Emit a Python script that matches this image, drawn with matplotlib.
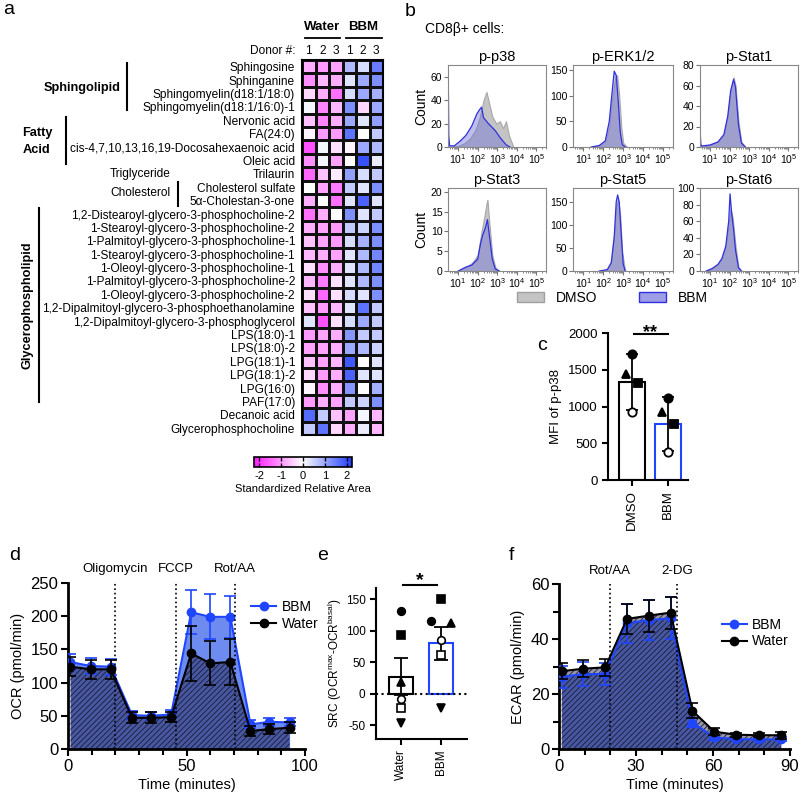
import numpy as np
import matplotlib
matplotlib.use("Agg")
from matplotlib import pyplot as plt
from matplotlib.colors import LinearSegmentedColormap
from matplotlib.patches import Patch
from matplotlib.lines import Line2D
from matplotlib.ticker import MultipleLocator, LogLocator, NullFormatter

plt.rcParams['font.family'] = ['Liberation Sans', 'DejaVu Sans']
plt.rcParams['mathtext.fontset'] = 'custom'
plt.rcParams['mathtext.rm'] = 'Liberation Sans'
plt.rcParams['hatch.linewidth'] = 0.6
plt.rcParams['axes.unicode_minus'] = False

# ---------------- data ----------------
lipids = ['Sphingosine', 'Sphinganine', 'Sphingomyelin(d18:1/18:0)', 'Sphingomyelin(d18:1/16:0)-1',
          'Nervonic acid', 'FA(24:0)', 'cis-4,7,10,13,16,19-Docosahexaenoic acid', 'Oleic acid',
          'Trilaurin', 'Cholesterol sulfate', '5α-Cholestan-3-one',
          '1,2-Distearoyl-glycero-3-phosphocholine-2', '1-Stearoyl-glycero-3-phosphocholine-2',
          '1-Palmitoyl-glycero-3-phosphocholine-1', '1-Stearoyl-glycero-3-phosphocholine-1',
          '1-Oleoyl-glycero-3-phosphocholine-1', '1-Palmitoyl-glycero-3-phosphocholine-2',
          '1-Oleoyl-glycero-3-phosphocholine-2', '1,2-Dipalmitoyl-glycero-3-phosphoethanolamine',
          '1,2-Dipalmitoyl-glycero-3-phosphoglycerol', 'LPS(18:0)-1', 'LPS(18:0)-2',
          'LPG(18:1)-1', 'LPG(18:1)-2', 'LPG(16:0)', 'PAF(17:0)', 'Decanoic acid',
          'Glycerophosphocholine']
donors = ['1', '2', '3', '1', '2', '3']
heat_vals = [
    [-0.8, -1.0, -0.9, 0.8, 0.4, 1.5],
    [-1.1, -0.7, -0.8, 0.3, 1.0, 1.3],
    [-0.4, -0.8, -1.4, 0.4, 1.0, 0.9],
    [0.1, -1.2, -0.7, 1.3, -0.4, 1.0],
    [-0.6, -1.2, -0.8, 1.0, 0.3, 1.1],
    [-0.1, -1.0, -1.0, 1.6, 0.0, 0.6],
    [-1.7, 0.1, -0.3, -0.1, 1.0, 0.8],
    [-1.1, 0.1, -0.9, 0.0, 2.0, 0.2],
    [-1.5, -0.6, -0.2, 1.1, 0.4, 0.6],
    [0.0, -0.9, -1.3, 0.6, 0.3, 1.3],
    [-0.8, 0.0, -1.4, 0.3, 1.8, 0.3],
    [-1.4, -0.8, 0.0, 1.3, 0.3, 0.6],
    [-0.8, -0.9, -1.0, 0.6, 0.5, 1.3],
    [-0.6, -0.9, -1.0, 0.4, 0.9, 1.3],
    [-0.7, -0.8, -0.9, 0.3, 0.8, 1.4],
    [-0.3, -1.1, -0.8, 0.3, 0.8, 1.4],
    [-0.7, -1.3, -0.3, 0.3, 0.8, 1.3],
    [-0.3, -1.5, -0.3, 0.4, 0.3, 1.3],
    [-0.6, -1.0, -0.7, 0.3, 1.6, 0.6],
    [0.3, -1.7, -0.3, 0.4, 1.0, 0.6],
    [-1.0, -0.9, -0.8, 1.2, 0.6, 0.6],
    [-0.9, -0.9, -0.8, 1.0, 0.8, 0.5],
    [-0.6, -0.9, -0.7, 1.9, 0.0, 0.3],
    [-0.4, -1.0, -0.8, 1.8, 0.3, 0.3],
    [-0.1, -1.1, -0.8, 1.2, 0.0, 0.9],
    [-1.0, -0.8, -0.9, 0.6, 0.5, 1.3],
    [1.7, 0.6, -0.6, -0.9, 0.1, -0.7],
    [0.6, 1.6, -0.4, -0.8, 0.2, -0.7],
]

# flow histograms: log10(intensity) and count, for DMSO and BBM
hist_titles = ['p-p38', 'p-ERK1/2', 'p-Stat1', 'p-Stat3', 'p-Stat5', 'p-Stat6']
hist_ymax = [70, 160, 80, 21, 180, 100]
hist_yticks = [[0, 20, 40, 60], [0, 50, 100, 150], [0, 20, 40, 60, 80],
               [0, 5, 10, 15, 20], [0, 50, 100, 150], [0, 20, 40, 60, 80, 100]]
dmso_lx = [
    [0.5, 1.0, 1.3, 1.6, 1.9, 2.1, 2.3, 2.45, 2.55, 2.75, 2.95, 3.14, 3.3, 3.45, 3.6, 3.83],
    [1.4, 1.8, 2.1, 2.3, 2.45, 2.6, 2.7, 2.8, 2.9, 3.0, 3.2],
    [0.5, 1.0, 1.4, 1.7, 1.9, 2.05, 2.2, 2.3, 2.45, 2.6, 2.8],
    [1.0, 1.4, 1.7, 2.0, 2.2, 2.35, 2.45, 2.5, 2.6, 2.75, 2.9, 3.1],
    [1.8, 2.2, 2.4, 2.55, 2.65, 2.75, 2.85, 2.95, 3.1],
    [0.8, 1.1, 1.4, 1.6, 1.8, 1.95, 2.05, 2.15, 2.3, 2.45, 2.6],
]
dmso_cnt = [
    [0, 1, 3, 7, 15, 25, 40, 47, 40, 26, 20, 22, 16, 22, 10, 0],
    [0, 2, 10, 40, 95, 135, 140, 100, 40, 8, 0],
    [0, 2, 5, 12, 30, 55, 68, 60, 25, 5, 0],
    [0, 1, 2, 4, 10, 14, 17, 18, 12, 4, 1, 0],
    [0, 3, 20, 80, 140, 155, 120, 40, 0],
    [0, 3, 8, 15, 30, 55, 75, 65, 30, 5, 0],
]
bbm_lx = [
    [0.49, 0.52, 0.56, 0.8, 1.1, 1.4, 1.7, 1.95, 2.1, 2.2, 2.3, 2.55, 2.9, 3.15, 3.45, 3.65],
    [1.4, 1.8, 2.1, 2.3, 2.45, 2.55, 2.65, 2.75, 2.85, 2.95, 3.1],
    [0.49, 0.52, 0.56, 1.0, 1.4, 1.7, 1.9, 2.05, 2.2, 2.3, 2.45, 2.6, 2.8],
    [1.0, 1.4, 1.7, 2.0, 2.15, 2.25, 2.4, 2.5, 2.6, 2.75, 2.9, 3.1],
    [1.8, 2.2, 2.4, 2.55, 2.65, 2.72, 2.8, 2.9, 3.0, 3.1],
    [0.8, 1.1, 1.4, 1.6, 1.8, 1.95, 2.02, 2.1, 2.2, 2.3, 2.45, 2.6],
]
bbm_cnt = [
    [67, 10, 1, 1, 5, 10, 18, 28, 32, 34, 25, 20, 14, 8, 2, 0],
    [0, 3, 12, 50, 110, 148, 140, 90, 30, 5, 0],
    [15, 3, 1, 2, 5, 12, 30, 55, 66, 58, 22, 4, 0],
    [0, 1, 1.5, 3, 7, 9, 11, 13, 9, 3, 0.5, 0],
    [0, 3, 18, 75, 150, 165, 150, 80, 15, 0],
    [0, 3, 8, 15, 30, 60, 93, 70, 50, 25, 4, 0],
]

# c: MFI of p-p38
c_groups = ['DMSO', 'BBM']
c_mean = [1330, 760]
c_err = [380, 370]
c_pts = [[1720, 1440, 1320, 930], [1110, 930, 760, 380]]

# d: OCR
d_t = [1, 9.5, 18, 27, 35, 43.5, 52, 60, 68.5, 77, 85, 93.5]
d_bbm = [131, 125, 124, 51, 50, 52, 206, 199, 199, 37, 41, 40]
d_bbm_err = [12, 12, 12, 6, 6, 6, 33, 34, 32, 6, 6, 6]
d_water = [124, 120, 120, 47, 47, 48, 144, 129, 131, 27, 30, 32]
d_water_err = [14, 14, 14, 8, 8, 8, 41, 33, 34, 8, 8, 8]
d_inject = [20, 45.5, 70.5]
d_inject_names = ['Oligomycin', 'FCCP', 'Rot/AA']

# e: SRC
e_groups = ['Water', 'BBM']
e_mean = [27, 80]
e_err = [29, 26]
e_markers = ['o', 's', '^', 'o', 's', 'v']
e_filled = [True, True, True, False, False, True]
e_pts = [[132, 94, 19, -8, -23, -46], [116, 150, 112, 85, 61, -22]]

# f: ECAR
f_t = [1, 9.5, 18, 26.5, 35, 43.5, 52, 60.5, 69, 78, 86.5]
f_bbm = [26.3, 27.2, 27.3, 45.7, 46.9, 47.5, 9.6, 4.2, 3.6, 3.5, 3.5]
f_bbm_err = [4, 4.4, 4, 7, 7.2, 7.6, 1.6, 0.8, 0.5, 0.5, 0.7]
f_water = [28.3, 29.2, 29.7, 47.3, 48.5, 49.6, 13.9, 6.3, 5.2, 5.0, 5.0]
f_water_err = [3, 3, 3, 5.4, 5.8, 5.8, 2.7, 1.2, 0.8, 0.8, 1.2]
f_inject = [20, 46]
f_inject_names = ['Rot/AA', '2-DG']

BLUE = '#1f45ff'
W, H = 800, 794
fig = plt.figure(figsize=(W / 100, H / 100), dpi=100)


def px_ax(l, t, r, b):
    return fig.add_axes([l / W, 1 - b / H, (r - l) / W, (b - t) / H])


# overlay for annotations in pixel units
ov = fig.add_axes([0, 0, 1, 1], zorder=-1)
ov.set_xlim(0, W)
ov.set_ylim(H, 0)
ov.axis('off')

# ---------------- a: heatmap ----------------
cmap = LinearSegmentedColormap.from_list('mw', ['#ff1aff', '#ffffff', '#1f3cff'])
ax = px_ax(302, 60, 383, 435)
mesh = ax.pcolormesh(np.array(heat_vals), cmap=cmap, vmin=-2.25, vmax=2.25,
                     edgecolors='#111111', linewidth=0.9)
ax.set_xlim(0, 6)
ax.set_ylim(len(lipids), 0)
ax.set_yticks(np.arange(len(lipids)) + 0.5, labels=lipids, fontsize=8.6)
ax.set_xticks([])
ax.tick_params(axis='y', length=0, pad=5)
for s in ax.spines.values():
    s.set_linewidth(1.5)

ov.text(322, 27, 'Water', ha='center', va='center', fontsize=9.5, fontweight='bold')
ov.text(363, 27, 'BBM', ha='center', va='center', fontsize=9.5, fontweight='bold')
ov.plot([305, 340], [38, 38], color='k', lw=1.3)
ov.plot([346, 382], [38, 38], color='k', lw=1.3)
ov.text(296, 51, 'Donor #:', ha='right', va='center', fontsize=8.6)
for i, d in enumerate(donors):
    ov.text(302 + 13.5 * (i + 0.5), 51, d, ha='center', va='center', fontsize=8.6)

ov.text(121, 88, 'Sphingolipid', ha='right', va='center', fontsize=9.2, fontweight='bold')
ov.plot([127, 127], [63, 110], color='k', lw=1.5)
ov.text(37, 133, 'Fatty', ha='center', va='center', fontsize=9.2, fontweight='bold')
ov.text(37, 150, 'Acid', ha='center', va='center', fontsize=9.2, fontweight='bold')
ov.plot([66, 66], [117, 164], color='k', lw=1.5)
ov.text(140, 174, 'Triglyceride', ha='center', va='center', fontsize=8.6)
ov.text(140, 193, 'Cholesterol', ha='center', va='center', fontsize=8.6)
ov.plot([178, 178], [182, 206], color='k', lw=1.5)
ov.text(28, 305, 'Glycerophospholipid', ha='center', va='center', fontsize=9.2,
        fontweight='bold', rotation=90)
ov.plot([39, 39], [208, 402], color='k', lw=1.5)

cax = px_ax(254, 457, 352, 467)
cb = fig.colorbar(mesh, cax=cax, orientation='horizontal', ticks=[-2, -1, 0, 1, 2])
cb.outline.set_linewidth(1.2)
cax.tick_params(direction='in', length=3, width=1, labelsize=8, top=True, pad=3)
cax.set_xlabel('Standardized Relative Area', fontsize=8, labelpad=2)

# ---------------- b: histograms ----------------
hist_boxes = [(448, 65, 546, 147), (573, 65, 673, 147), (700, 65, 798, 147),
              (448, 188, 546, 271), (573, 188, 673, 271), (700, 188, 798, 271)]
for i in range(6):
    hx = px_ax(*hist_boxes[i])
    hx.fill_between(10 ** np.array(dmso_lx[i]), dmso_cnt[i], color='#c4c4c4',
                    edgecolor='#a8a8a8', lw=0.8)
    hx.fill_between(10 ** np.array(bbm_lx[i]), bbm_cnt[i], facecolor=(0.45, 0.45, 0.85, 0.45),
                    edgecolor='none')
    hx.plot(10 ** np.array(bbm_lx[i]), bbm_cnt[i], color='#3030e0', lw=0.9)
    hx.set_xscale('log')
    hx.set_xlim(10 ** 0.48, 10 ** 5.5)
    hx.set_ylim(0, hist_ymax[i])
    hx.set_xticks([1e1, 1e2, 1e3, 1e4, 1e5])
    hx.xaxis.set_minor_locator(LogLocator(base=10, subs=np.arange(2, 10), numticks=20))
    hx.xaxis.set_minor_formatter(NullFormatter())
    hx.set_yticks(hist_yticks[i])
    hx.tick_params(labelsize=7.5, length=3, pad=1, color='#777777')
    hx.tick_params(which='minor', length=1.5, color='#777777')
    for s in hx.spines.values():
        s.set_color('#888888')
    hx.set_title(hist_titles[i], fontsize=10.5, pad=3)
    if i % 3 == 0:
        hx.set_ylabel('Count', fontsize=10, labelpad=2)

ov.text(405, 12, 'b', ha='left', va='center', fontsize=14)
ov.text(425, 29, 'CD8β+ cells:', ha='left', va='center', fontsize=10)
fig.legend(handles=[Patch(facecolor='#c4c4c4', edgecolor='#a0a0a0', label='DMSO'),
                    Patch(facecolor=(0.62, 0.62, 0.9), edgecolor='#3030e0', label='BBM')],
           loc='center', bbox_to_anchor=(612 / W, 1 - 298 / H), ncol=2, frameon=False,
           fontsize=10, handlelength=2, columnspacing=3)

# ---------------- c: MFI bars ----------------
cx = px_ax(608, 333, 688, 480)
c_markers = ['o', '^', 's', 'o']
c_filled = [True, True, True, False]
c_offs = [0.0, -0.17, 0.17, 0.0]
for i in range(2):
    ec = 'k' if i == 0 else BLUE
    cx.bar(i, c_mean[i], width=0.7, facecolor='white', edgecolor=ec, lw=1.5, zorder=1)
    cx.errorbar(i, c_mean[i], yerr=c_err[i], color='k', capsize=4, lw=1.3, capthick=1.3, zorder=2)
    for j in range(4):
        cx.plot(i + c_offs[j], c_pts[i][j], marker=c_markers[j], ms=6,
                mfc='k' if c_filled[j] else 'white', mec='k', mew=1.3, ls='none', zorder=3)
cx.set_xlim(-0.667, 1.556)
cx.set_ylim(0, 2000)
cx.set_yticks([0, 500, 1000, 1500, 2000])
cx.set_xticks([0, 1], labels=c_groups, rotation=90, fontsize=10)
cx.set_ylabel('MFI of p-p38', fontsize=9.5)
cx.tick_params(labelsize=9.5, width=1.5, length=4)
for s in ['top', 'right']:
    cx.spines[s].set_visible(False)
for s in ['left', 'bottom']:
    cx.spines[s].set_linewidth(1.5)
cx.plot([0.05, 1.0], [1990, 1990], color='k', lw=1.5, clip_on=False)
cx.text(0.5, 2000, '**', ha='center', va='center', fontsize=13, fontweight='bold')
ov.text(542, 345, 'c', ha='center', va='center', fontsize=14)

legend_handles = [Line2D([], [], color=BLUE, marker='o', ms=6, lw=1.5, label='BBM'),
                  Line2D([], [], color='k', marker='o', ms=6, lw=1.5, label='Water')]


def seahorse(axx, t, bbm, bbm_err, water, water_err):
    axx.fill_between(t, bbm, color='#5577ee', alpha=0.85, lw=0, zorder=1)
    axx.fill_between(t, water, facecolor=(0.1, 0.1, 0.25, 0.45), edgecolor='#1a1a3a',
                     hatch='//////', lw=0, zorder=2)
    axx.errorbar(t, bbm, yerr=bbm_err, color=BLUE, marker='o', ms=6, capsize=4, lw=1.5,
                 capthick=1.2, elinewidth=1.2, zorder=4)
    axx.errorbar(t, water, yerr=water_err, color='k', marker='o', ms=6, capsize=4, lw=1.5,
                 capthick=1.2, elinewidth=1.2, zorder=5)
    for s in ['top', 'right']:
        axx.spines[s].set_visible(False)
    for s in ['left', 'bottom']:
        axx.spines[s].set_linewidth(2)
    axx.tick_params(labelsize=12, width=1.5, length=5, pad=2)
    axx.tick_params(which='minor', width=1.5, length=4)
    axx.set_xlabel('Time (minutes)', fontsize=10.5, labelpad=3)


# ---------------- d: OCR ----------------
dx = px_ax(68, 583, 305, 749)
seahorse(dx, d_t, d_bbm, d_bbm_err, d_water, d_water_err)
dx.set_xlim(0, 100)
dx.set_ylim(0, 250)
dx.set_xticks([0, 50, 100])
dx.xaxis.set_minor_locator(MultipleLocator(10))
dx.set_yticks([0, 50, 100, 150, 200, 250])
dx.set_ylabel('OCR (pmol/min)', fontsize=10.5)
for x0, name in zip(d_inject, d_inject_names):
    dx.axvline(x0, color='k', ls=':', lw=1.2, zorder=6)
    dx.text(x0, 262, name, ha='center', va='bottom', fontsize=9.5)
dx.legend(handles=legend_handles, loc='upper left', bbox_to_anchor=(0.75, 0.93), frameon=False,
          fontsize=10, handlelength=1.8, handletextpad=0.4, borderaxespad=0, labelspacing=0.2)
ov.text(15, 555, 'd', ha='center', va='center', fontsize=14)

# ---------------- e: SRC ----------------
ex = px_ax(376, 588, 467, 739)
e_offs = [[0.0] * 6, [-0.25, 0.0, 0.25, 0.0, 0.0, 0.0]]
for i in range(2):
    ec = 'k' if i == 0 else BLUE
    ex.bar(i, e_mean[i], width=0.62, facecolor='white', edgecolor=ec, lw=1.5, zorder=1)
    ex.errorbar(i, e_mean[i], yerr=e_err[i], color='k', capsize=5, lw=1.3, capthick=1.3, zorder=2)
    for j in range(6):
        ex.plot(i + e_offs[i][j], e_pts[i][j], marker=e_markers[j], ms=5.5,
                mfc='k' if e_filled[j] else 'white', mec='k', mew=1.2, ls='none', zorder=3)
ex.axhline(0, color='k', ls=':', lw=1.5, zorder=4)
ex.set_xlim(-0.625, 1.65)
ex.set_ylim(-72, 168)
ex.set_yticks([-50, 0, 50, 100, 150])
ex.set_xticks([0, 1], labels=e_groups, rotation=90, fontsize=10.5)
ex.set_ylabel('SRC (OCR$^{\\mathrm{max}}$-OCR$^{\\mathrm{basal}}$)', fontsize=8.5, labelpad=1)
ex.tick_params(labelsize=8.5, width=1.5, length=4)
for s in ['top', 'right']:
    ex.spines[s].set_visible(False)
for s in ['left', 'bottom']:
    ex.spines[s].set_linewidth(1.5)
ex.plot([0.05, 0.9], [173, 173], color='k', lw=1.5, clip_on=False)
ex.text(0.47, 180, '*', ha='center', va='center', fontsize=14, fontweight='bold')
ov.text(323, 555, 'e', ha='center', va='center', fontsize=14)

# ---------------- f: ECAR ----------------
fx = px_ax(559, 584, 790, 749)
seahorse(fx, f_t, f_bbm, f_bbm_err, f_water, f_water_err)
fx.set_xlim(0, 90)
fx.set_ylim(0, 60)
fx.set_xticks([0, 30, 60, 90])
fx.xaxis.set_minor_locator(MultipleLocator(10))
fx.set_yticks([0, 20, 40, 60])
fx.yaxis.set_minor_locator(MultipleLocator(10))
fx.set_ylabel('ECAR (pmol/min)', fontsize=10.5)
for x0, name in zip(f_inject, f_inject_names):
    fx.axvline(x0, color='k', ls=':', lw=1.2, zorder=6)
    fx.text(x0, 62.5, name, ha='center', va='bottom', fontsize=9.5)
fx.legend(handles=legend_handles, loc='upper left', bbox_to_anchor=(0.68, 0.83), frameon=False,
          fontsize=10, handlelength=1.8, handletextpad=0.4, borderaxespad=0, labelspacing=0.2)
ov.text(511, 555, 'f', ha='center', va='center', fontsize=14)

ov.text(3, 10, 'a', ha='left', va='center', fontsize=14)

plt.savefig('out.png', dpi=100)
